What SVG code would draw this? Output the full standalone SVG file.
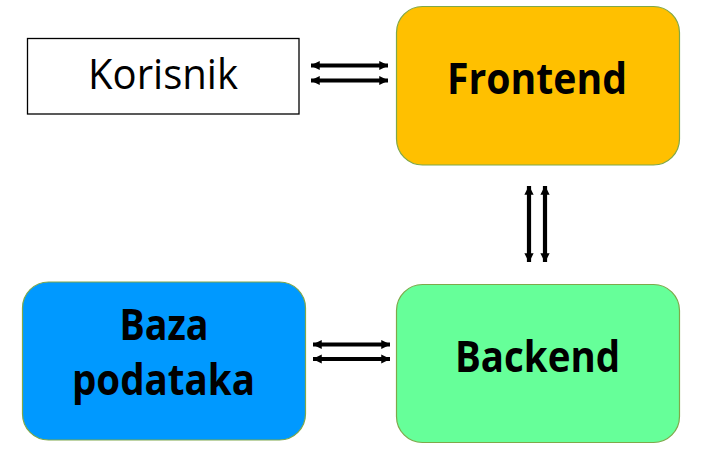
<svg xmlns="http://www.w3.org/2000/svg" width="704" height="451" viewBox="0 0 704 451">
<style>
.box{stroke:#7FA84A;stroke-width:1.2}
.t{font-family:"Open Sans","Noto Sans","Liberation Sans",sans-serif;fill:#000;text-anchor:middle}
.b{font-weight:bold;font-size:43px}
.r{font-size:42px}
.c{stroke:#000;stroke-width:4.2;fill:none;marker-start:url(#ah);marker-end:url(#ah)}
</style>
<defs>
<marker id="ah" viewBox="0 0 10 10" refX="9.5" refY="5" markerWidth="2.2" markerHeight="2.4" orient="auto-start-reverse" markerUnits="strokeWidth">
<path d="M0,0 L10,5 L0,10 z" fill="#000"/>
</marker>
</defs>
<rect width="704" height="451" fill="#fff"/>
<g id="korisnik">
<rect x="27.5" y="38.5" width="271.5" height="75.5" fill="#fff" stroke="#000" stroke-width="1.3"/>
<text class="t r" x="163" y="88.5" textLength="150" lengthAdjust="spacingAndGlyphs">Korisnik</text>
</g>
<g id="frontend">
<rect class="box" x="396.5" y="6.5" width="283" height="158.5" rx="26" fill="#FFC000"/>
<text class="t b" x="537" y="93.5" textLength="180" lengthAdjust="spacingAndGlyphs">Frontend</text>
</g>
<g id="backend">
<rect class="box" x="396.5" y="284.5" width="283" height="158" rx="26" fill="#66FF99"/>
<text class="t b" x="537.5" y="372" textLength="165" lengthAdjust="spacingAndGlyphs">Backend</text>
</g>
<g id="baza">
<rect class="box" x="22.5" y="282" width="283" height="158" rx="26" fill="#0099FF"/>
<text class="t b" x="164" y="340" textLength="89" lengthAdjust="spacingAndGlyphs">Baza</text>
<text class="t b" x="163.5" y="395" textLength="183" lengthAdjust="spacingAndGlyphs">podataka</text>
</g>
<g id="connectors">
<line class="c" x1="311" y1="65.5" x2="388" y2="65.5"/>
<line class="c" x1="311" y1="80.5" x2="388" y2="80.5"/>
<line class="c" x1="529" y1="186" x2="529" y2="262"/>
<line class="c" x1="545" y1="186" x2="545" y2="262"/>
<line class="c" x1="313" y1="344.5" x2="390" y2="344.5"/>
<line class="c" x1="313" y1="359" x2="390" y2="359"/>
</g>
</svg>
